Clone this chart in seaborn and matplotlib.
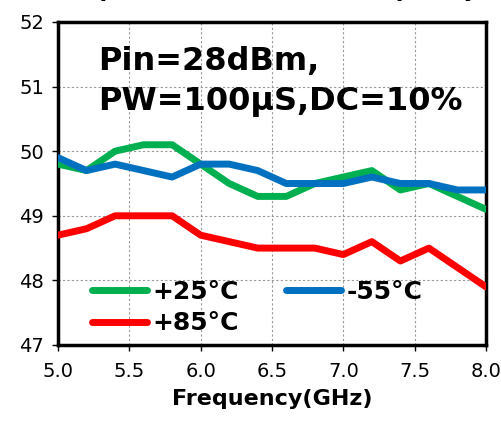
import matplotlib
matplotlib.use("Agg")
import matplotlib.pyplot as plt
import seaborn as sns
import pandas as pd

# data
freq = [5.0, 5.2, 5.4, 5.6, 5.8, 6.0, 6.2, 6.4, 6.6, 6.8, 7.0, 7.2, 7.4, 7.6, 7.8, 8.0]
pout_25 = [49.8, 49.7, 50.0, 50.1, 50.1, 49.8, 49.5, 49.3, 49.3, 49.5, 49.6, 49.7, 49.4, 49.5, 49.3, 49.1]
pout_m55 = [49.9, 49.7, 49.8, 49.7, 49.6, 49.8, 49.8, 49.7, 49.5, 49.5, 49.5, 49.6, 49.5, 49.5, 49.4, 49.4]
pout_85 = [48.7, 48.8, 49.0, 49.0, 49.0, 48.7, 48.6, 48.5, 48.5, 48.5, 48.4, 48.6, 48.3, 48.5, 48.2, 47.9]
temps = ["+25°C", "-55°C", "+85°C"]
colors = ["#00B050", "#0070C0", "#FF0000"]

df = pd.concat([
    pd.DataFrame({"freq": freq, "pout": pout_25, "temp": temps[0]}),
    pd.DataFrame({"freq": freq, "pout": pout_m55, "temp": temps[1]}),
    pd.DataFrame({"freq": freq, "pout": pout_85, "temp": temps[2]}),
])

sns.set_style("white")
plt.rcParams['font.family'] = ['DejaVu Sans']
plt.rcParams['text.color'] = 'black'
plt.rcParams['axes.labelcolor'] = 'black'
plt.rcParams['xtick.color'] = 'black'
plt.rcParams['ytick.color'] = 'black'

fig = plt.figure(figsize=(5.01, 4.23), dpi=100)
ax = fig.add_axes([0.1158, 0.1844, 0.8542, 0.7636])

sns.lineplot(data=df, x="freq", y="pout", hue="temp", hue_order=temps,
             palette=colors, linewidth=5, ax=ax, zorder=3)

ax.set_xlim(5.0, 8.0)
ax.set_ylim(47, 52)
ax.set_xticks([5.0, 5.5, 6.0, 6.5, 7.0, 7.5, 8.0])
ax.set_xticklabels(["5.0", "5.5", "6.0", "6.5", "7.0", "7.5", "8.0"])
ax.set_yticks([47, 48, 49, 50, 51, 52])
ax.tick_params(axis="both", labelsize=14, direction="out", length=4, width=1,
               color="black", labelcolor="black", pad=6)
ax.tick_params(axis="x", bottom=True, pad=8)
ax.tick_params(axis="y", left=True)
ax.grid(True, color="#999999", linestyle=(0, (2, 2)), linewidth=0.8)
for sp in ax.spines.values():
    sp.set_visible(True)
    sp.set_color("black")
    sp.set_linewidth(2.5)

ax.set_xlabel("Frequency(GHz)", fontsize=16, fontweight="bold", labelpad=6,
              color="black")
ax.set_ylabel("")

ax.text(0.093, 0.925, "Pin=28dBm,\nPW=100μS,DC=10%", transform=ax.transAxes,
        fontsize=23, fontweight="bold", va="top", ha="left", linespacing=1.35,
        color="black", zorder=4)

# legend: row 1 = +25 / -55, row 2 = +85 (column-major fill)
handles, labels = ax.get_legend_handles_labels()
order = [labels.index(t) for t in ["+25°C", "+85°C", "-55°C"]]
leg = ax.legend([handles[i] for i in order], [labels[i] for i in order],
                loc="lower left", bbox_to_anchor=(0.08, 0.03), ncol=2,
                frameon=False, prop={"size": 18, "weight": "bold"},
                handlelength=2.2, handletextpad=0.2, columnspacing=1.9,
                labelspacing=0.3, borderpad=0, borderaxespad=0)
for line in leg.get_lines():
    line.set_linewidth(5)
for t in leg.get_texts():
    t.set_color("black")

# title of the original figure, cut off at the top edge
fig.text(0.53, 1.007, "Output Power(dBm) vs Frequency", fontsize=16,
         fontweight="bold", ha="center", va="baseline", color="black")

fig.savefig("out.png", dpi=100)
